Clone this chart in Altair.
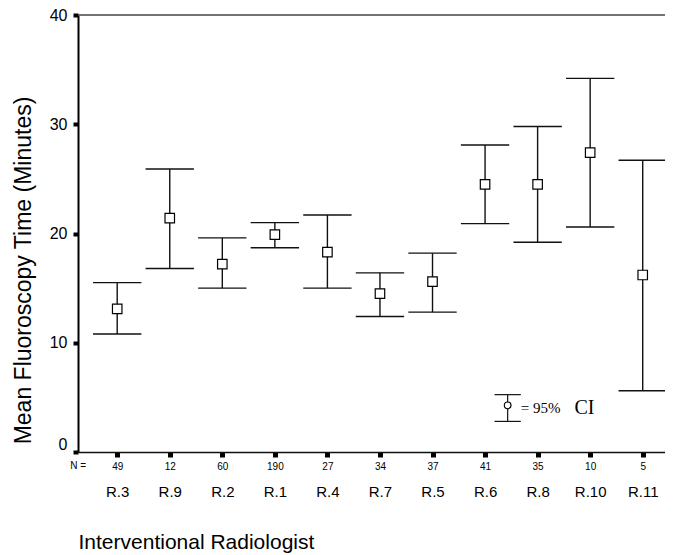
import altair as alt
import pandas as pd

# ---- data ----
radiologists = ["R.3", "R.9", "R.2", "R.1", "R.4", "R.7", "R.5", "R.6", "R.8", "R.10", "R.11"]
n_cases = [49, 12, 60, 190, 27, 34, 37, 41, 35, 10, 5]
mean_time = [13.1, 21.4, 17.2, 19.9, 18.3, 14.5, 15.6, 24.5, 24.5, 27.4, 16.2]
ci_low = [10.8, 16.8, 15.0, 18.7, 15.0, 12.4, 12.8, 20.9, 19.2, 20.6, 5.6]
ci_high = [15.5, 25.9, 19.6, 21.0, 21.7, 16.4, 18.2, 28.1, 29.8, 34.2, 26.7]
y_ticks = [0, 10, 20, 30, 40]

# legend key (in data units)
legend_x = [7.43]
legend_low = [2.8]
legend_high = [5.25]
legend_mid = [4.27]

positions = list(range(len(radiologists)))
df = pd.DataFrame({"pos": positions, "name": radiologists, "n": n_cases,
                   "mean": mean_time, "lo": ci_low, "hi": ci_high})
leg = pd.DataFrame({"x": legend_x, "lo": legend_low, "hi": legend_high, "mid": legend_mid})
top_df = pd.DataFrame({"top": [max(y_ticks)]})

SANS = "Liberation Sans"
SERIF = "Liberation Serif"
INK = "#111111"

xscale = alt.Scale(domain=[-0.746, 10.424], nice=False, zero=False)
yscale = alt.Scale(domain=[0, 40], nice=False, zero=True)

n_expr = "[" + ",".join(f"'{v}'" for v in n_cases) + "][datum.value]"
name_expr = "[" + ",".join(f"'{v}'" for v in radiologists) + "][datum.value]"

yax = alt.Axis(values=y_ticks, grid=False, tickSize=5, tickWidth=4, tickColor="black",
               domainColor="black", domainWidth=2, labelFont=SANS, labelFontSize=16,
               labelColor="black", labelPadding=6,
               labelBaseline={"condition": {"test": "datum.value == 0", "value": "bottom"},
                              "value": "middle"},
               title="Mean Fluoroscopy Time (Minutes)", titleFont=SANS, titleFontSize=23,
               titleFontWeight="normal", titleColor="black", titleX=-48, titleY=255,
               titleAngle=-90, titleBaseline="alphabetic", titleAlign="center")

x_n_axis = alt.Axis(orient="bottom", values=positions, labelExpr=n_expr, grid=False,
                    tickSize=5, tickWidth=5,
                    tickColor="black", domainColor=INK, domainWidth=1.5, labelFont=SANS,
                    labelFontSize=10, labelColor="black", labelBaseline="middle",
                    labelPadding=9, labelAngle=0, labelOverlap=False, labelFlush=False,
                    title="Interventional Radiologist", titleFont=SANS, titleFontSize=21,
                    titleFontWeight="normal", titleColor="black", titleX=0, titleY=96,
                    titleAlign="left", titleAnchor="start", titleBaseline="alphabetic")

x_name_axis = alt.Axis(orient="bottom", values=positions, labelExpr=name_expr, grid=False,
                       ticks=False, domain=False, labelFont=SANS, labelFontSize=15,
                       labelColor="black", labelBaseline="middle", labelPadding=39,
                       labelAngle=0, labelOverlap=False, labelFlush=False, title=None)

base = alt.Chart(df)

stems = base.mark_rule(color=INK, strokeWidth=1.4).encode(
    x=alt.X("pos:Q", scale=xscale, axis=x_n_axis),
    y=alt.Y("lo:Q", scale=yscale, axis=yax),
    y2="hi:Q",
)

caps = base.transform_fold(["lo", "hi"], as_=["which", "val"]).transform_calculate(
    xl="datum.pos - 0.46", xr="datum.pos + 0.46"
).mark_rule(color=INK, strokeWidth=1.4).encode(
    x=alt.X("xl:Q", scale=xscale, axis=None),
    x2="xr:Q",
    y=alt.Y("val:Q", scale=yscale, axis=yax),
)

points = base.mark_point(shape="square", size=90, filled=True, fill="white",
                         stroke="black", strokeWidth=1.2, opacity=1).encode(
    x=alt.X("pos:Q", scale=xscale, axis=x_name_axis),
    y=alt.Y("mean:Q", scale=yscale, axis=yax),
)

top_line = alt.Chart(top_df).mark_rule(color="#444444", strokeWidth=1.6).encode(
    y=alt.Y("top:Q", scale=yscale, axis=yax),
)

n_label = alt.Chart(pd.DataFrame({"x": [-0.59], "y": [-1.25], "t": ["N ="]})).mark_text(
    font=SANS, fontSize=10, color="black", align="right", baseline="middle", clip=False
).encode(
    x=alt.X("x:Q", scale=xscale, axis=None),
    y=alt.Y("y:Q", scale=yscale, axis=yax),
    text="t:N",
)

lbase = alt.Chart(leg)
leg_stem = lbase.mark_rule(color=INK, strokeWidth=1.2).encode(
    x=alt.X("x:Q", scale=xscale, axis=None),
    y=alt.Y("lo:Q", scale=yscale, axis=yax),
    y2="hi:Q",
)
leg_caps = lbase.transform_fold(["lo", "hi"], as_=["which", "val"]).transform_calculate(
    xl="datum.x - 0.25", xr="datum.x + 0.25"
).mark_rule(color=INK, strokeWidth=1.2).encode(
    x=alt.X("xl:Q", scale=xscale, axis=None),
    x2="xr:Q",
    y=alt.Y("val:Q", scale=yscale, axis=yax),
)
leg_pt = lbase.mark_point(shape="circle", size=45, filled=True, fill="white",
                          stroke="black", strokeWidth=1.1, opacity=1).encode(
    x=alt.X("x:Q", scale=xscale, axis=None),
    y=alt.Y("mid:Q", scale=yscale, axis=yax),
)
leg_txt = alt.Chart(pd.DataFrame({"x": [7.68, 8.7], "y": [4.05, 4.05],
                                  "t": ["= 95%", "CI"], "s": [15, 20]})).mark_text(
    font=SERIF, color="black", align="left", baseline="middle"
).encode(
    x=alt.X("x:Q", scale=xscale, axis=None),
    y=alt.Y("y:Q", scale=yscale, axis=yax),
    text="t:N",
    size=alt.Size("s:Q", scale=None, legend=None),
)

chart = alt.layer(
    top_line, stems, caps, points, n_label, leg_stem, leg_caps, leg_pt, leg_txt
).resolve_axis(x="independent").properties(
    width=587, height=437,
    autosize=alt.AutoSizeParams(type="none"),
    padding={"left": 70, "top": 7, "right": 0, "bottom": 103},
    background="white",
).configure_view(stroke=None)

chart.save("out.html", embed_options={"renderer": "svg", "actions": False})
